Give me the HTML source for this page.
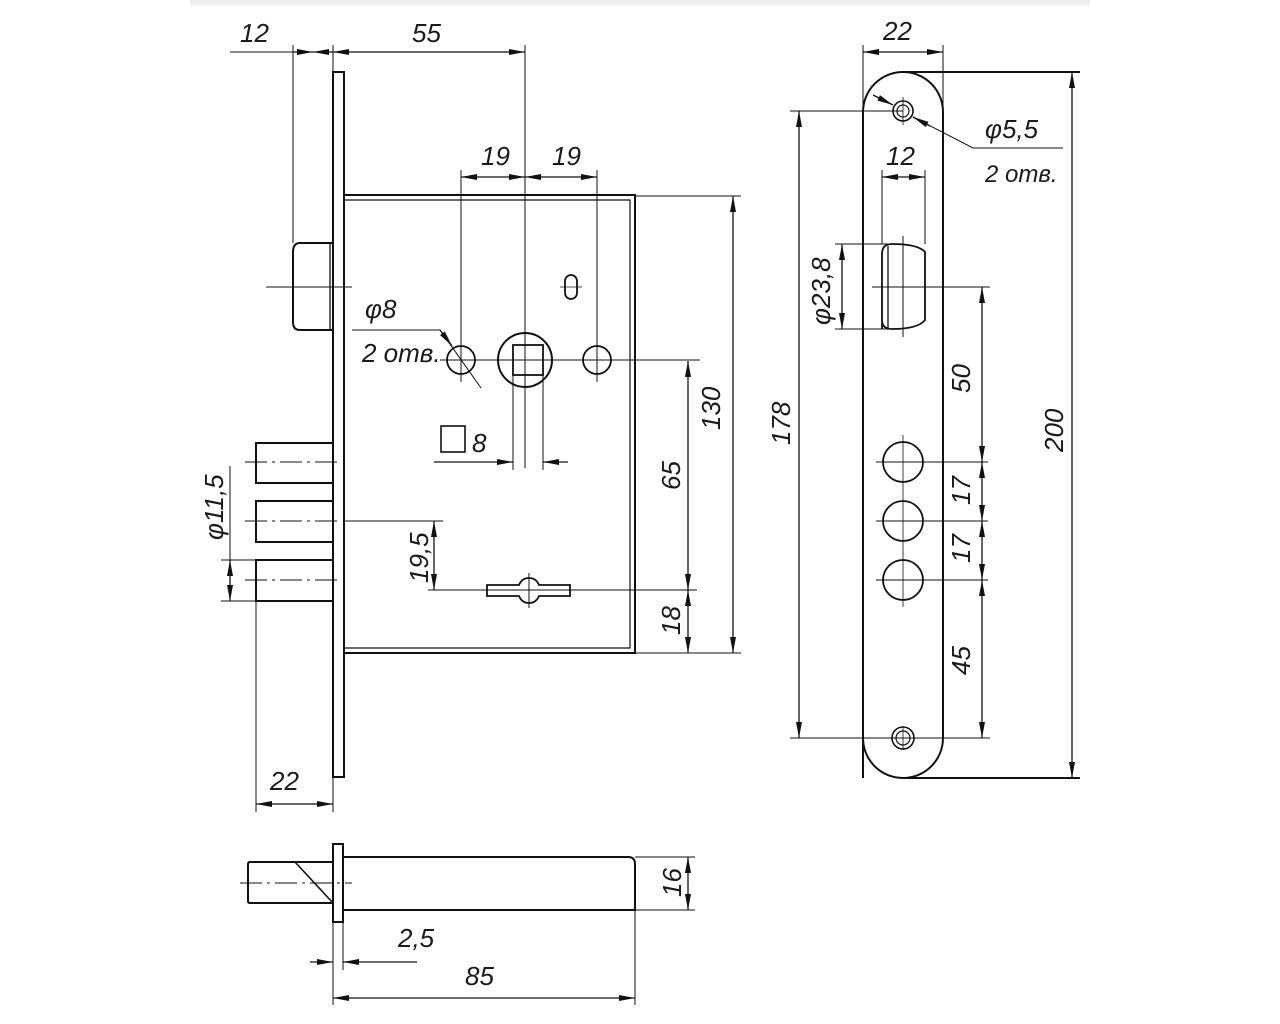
<!DOCTYPE html>
<html><head><meta charset="utf-8"><style>
html,body{margin:0;padding:0;background:#fff;}
svg{display:block;}
text{font-family:"Liberation Sans",sans-serif;font-style:italic;font-size:26px;fill:#1a1a1a;}
</style></head><body>
<svg width="1280" height="1024" viewBox="0 0 1280 1024" xmlns="http://www.w3.org/2000/svg">
<defs>
<marker id="a" viewBox="0 0 16 6" refX="16" refY="3" markerWidth="16" markerHeight="6" markerUnits="userSpaceOnUse" orient="auto-start-reverse"><path d="M0,0 L16,3 L0,6 z" fill="#111"/></marker>
</defs>
<rect x="190" y="0" width="900" height="5" fill="#eeeeee"/>
<g stroke="#111" fill="none" stroke-width="1.3">
<rect x="333" y="72" width="11" height="705" stroke-width="2"/>
<path d="M344,195 H635 V653 H344" stroke-width="2"/>
<path d="M344,200 H630 V648 H344" stroke-width="1.2"/>
<path d="M333,243 H300 Q293,243 293,252 V322 Q293,330 300,330 H333" stroke-width="2"/>
<line x1="330" y1="243" x2="330" y2="330"/>
<line x1="266" y1="287" x2="352" y2="287" stroke-width="1"/>
<line x1="230" y1="52" x2="293" y2="52" stroke-width="1"/>
<line x1="293" y1="52" x2="313" y2="52" marker-end="url(#a)"/>
<line x1="313" y1="52" x2="333" y2="52" marker-start="url(#a)"/>
<line x1="333" y1="52" x2="525" y2="52" marker-start="url(#a)" marker-end="url(#a)"/>
<line x1="293" y1="45" x2="293" y2="243" stroke-width="1"/>
<line x1="333" y1="45" x2="333" y2="72" stroke-width="1"/>
<line x1="525" y1="45" x2="525" y2="468" stroke-width="1"/>
<line x1="461" y1="177" x2="525" y2="177" marker-start="url(#a)" marker-end="url(#a)"/>
<line x1="525" y1="177" x2="597" y2="177" marker-start="url(#a)" marker-end="url(#a)"/>
<line x1="461" y1="170" x2="461" y2="382" stroke-width="1"/>
<line x1="597" y1="170" x2="597" y2="382" stroke-width="1"/>
<circle cx="461" cy="360" r="14" stroke-width="1.8"/>
<circle cx="597" cy="360" r="14" stroke-width="1.8"/>
<circle cx="525" cy="360" r="27" stroke-width="2"/>
<rect x="513" y="345" width="30" height="30" stroke-width="1.8"/>
<line x1="440" y1="360" x2="700" y2="360" stroke-width="1"/>
<rect x="565" y="275" width="12" height="24" rx="6" stroke-width="1.8"/>
<line x1="560" y1="287" x2="582" y2="287" stroke-width="0.8"/>
<line x1="513" y1="375" x2="513" y2="470" stroke-width="1"/>
<line x1="543" y1="375" x2="543" y2="470" stroke-width="1"/>
<line x1="434" y1="462" x2="513" y2="462" marker-end="url(#a)"/>
<line x1="568" y1="462" x2="543" y2="462" marker-end="url(#a)"/>
<rect x="441" y="426" width="24" height="26" stroke-width="1.6"/>
<polyline points="352,330 440,330 481,388" stroke-width="1"/>
<line x1="440" y1="330" x2="452" y2="346" marker-end="url(#a)"/>
<path d="M334,443 H256 V483 H334" stroke-width="2"/>
<path d="M334,501 H256 V542 H334" stroke-width="2"/>
<path d="M334,560 H256 V601 H334" stroke-width="2"/>
<g stroke-dasharray="22,5,3,5" stroke-width="1"><line x1="245" y1="462" x2="342" y2="462"/><line x1="245" y1="521" x2="342" y2="521"/><line x1="245" y1="580" x2="342" y2="580"/></g>
<line x1="344" y1="521" x2="443" y2="521" stroke-width="1"/>
<line x1="434" y1="521" x2="434" y2="590" marker-start="url(#a)" marker-end="url(#a)"/>
<line x1="428" y1="590" x2="697" y2="590" stroke-width="1"/>
<path d="M487,585 H519 Q522,578 529,578 Q536,578 539,585 H570 V596 H539 Q536,603 529,603 Q522,603 519,596 H487 Z" stroke-width="1.8"/>
<line x1="529" y1="573" x2="529" y2="608" stroke-width="1"/>
<line x1="221" y1="560" x2="256" y2="560" stroke-width="1"/>
<line x1="221" y1="601" x2="256" y2="601" stroke-width="1"/>
<line x1="230" y1="466" x2="230" y2="560" stroke-width="1"/>
<line x1="230" y1="580" x2="230" y2="560" marker-end="url(#a)"/>
<line x1="230" y1="580" x2="230" y2="601" marker-end="url(#a)"/>
<line x1="256" y1="601" x2="256" y2="812" stroke-width="1"/>
<line x1="333" y1="777" x2="333" y2="812" stroke-width="1"/>
<line x1="256" y1="804" x2="333" y2="804" marker-start="url(#a)" marker-end="url(#a)"/>
<line x1="635" y1="196" x2="741" y2="196" stroke-width="1"/>
<line x1="635" y1="653" x2="741" y2="653" stroke-width="1"/>
<line x1="733" y1="196" x2="733" y2="653" marker-start="url(#a)" marker-end="url(#a)"/>
<line x1="688" y1="361" x2="688" y2="590" marker-start="url(#a)" marker-end="url(#a)"/>
<line x1="688" y1="590" x2="688" y2="653" marker-start="url(#a)" marker-end="url(#a)"/>
<path d="M863,778 V112 A40,40 0 0 1 943,112 V738 A40,40 0 0 1 863,738" stroke-width="2"/>
<circle cx="903" cy="111" r="10" stroke-width="1.6"/>
<circle cx="903" cy="111" r="6" stroke-width="1.2"/>
<circle cx="903" cy="738" r="11" stroke-width="1.6"/>
<circle cx="903" cy="738" r="7" stroke-width="1.2"/>
<line x1="891" y1="738" x2="915" y2="738" stroke-width="0.8"/><line x1="903" y1="726" x2="903" y2="750" stroke-width="0.8"/>
<line x1="903" y1="97" x2="903" y2="125" stroke-width="0.8"/>
<line x1="863" y1="45" x2="863" y2="112" stroke-width="1"/>
<line x1="943" y1="45" x2="943" y2="112" stroke-width="1"/>
<line x1="863" y1="52" x2="943" y2="52" marker-start="url(#a)" marker-end="url(#a)"/>
<line x1="903" y1="72" x2="1080" y2="72" stroke-width="2"/>
<line x1="903" y1="778" x2="1080" y2="778" stroke-width="2"/>
<line x1="1072" y1="72" x2="1072" y2="778" marker-start="url(#a)" marker-end="url(#a)"/>
<line x1="790" y1="111" x2="903" y2="111" stroke-width="1"/>
<line x1="790" y1="738" x2="990" y2="738" stroke-width="1"/>
<line x1="799" y1="111" x2="799" y2="738" marker-start="url(#a)" marker-end="url(#a)"/>
<polyline points="913,117 973,148 1063,148" stroke-width="1"/>
<line x1="873" y1="95" x2="893" y2="105" marker-end="url(#a)"/>
<line x1="930" y1="126" x2="913" y2="117" marker-end="url(#a)"/>
<line x1="882" y1="170" x2="882" y2="244" stroke-width="1"/>
<line x1="925" y1="170" x2="925" y2="244" stroke-width="1"/>
<line x1="882" y1="177" x2="925" y2="177" marker-start="url(#a)" marker-end="url(#a)"/>
<path d="M882,329 V254 Q882,244 892,244 Q918,244 925,252 V320 Q918,329 892,329 Q882,329 882,320" stroke-width="1.8"/>
<line x1="888" y1="246" x2="888" y2="328"/>
<line x1="903" y1="236" x2="903" y2="337" stroke-width="1"/>
<line x1="872" y1="287" x2="990" y2="287" stroke-width="1"/>
<line x1="835" y1="244" x2="890" y2="244" stroke-width="1"/>
<line x1="835" y1="329" x2="890" y2="329" stroke-width="1"/>
<line x1="842" y1="244" x2="842" y2="329" marker-start="url(#a)" marker-end="url(#a)"/>
<circle cx="903" cy="462" r="20" stroke-width="1.8"/>
<circle cx="903" cy="521" r="20" stroke-width="1.8"/>
<circle cx="903" cy="580" r="20" stroke-width="1.8"/>
<line x1="903" y1="435" x2="903" y2="607" stroke-width="0.8"/>
<line x1="876" y1="462" x2="988" y2="462" stroke-width="1"/>
<line x1="876" y1="521" x2="988" y2="521" stroke-width="1"/>
<line x1="876" y1="580" x2="988" y2="580" stroke-width="1"/>
<line x1="982" y1="287" x2="982" y2="462" marker-start="url(#a)" marker-end="url(#a)"/>
<line x1="982" y1="462" x2="982" y2="521" marker-start="url(#a)" marker-end="url(#a)"/>
<line x1="982" y1="521" x2="982" y2="580" marker-start="url(#a)" marker-end="url(#a)"/>
<line x1="982" y1="580" x2="982" y2="738" marker-start="url(#a)" marker-end="url(#a)"/>
<rect x="333" y="844" width="10" height="78" stroke-width="2"/>
<path d="M343,857 H628 Q635,857 635,864 V910 H343" stroke-width="2"/>
<path d="M333,862 H250 Q248,862 248,864 V901 Q248,903 250,903 H333" stroke-width="2"/>
<line x1="295" y1="862" x2="333" y2="903" stroke-width="1.6"/>
<line x1="240" y1="883" x2="352" y2="883" stroke-width="1" stroke-dasharray="22,5,3,5"/>
<line x1="635" y1="857" x2="695" y2="857" stroke-width="1"/>
<line x1="635" y1="910" x2="695" y2="910" stroke-width="1"/>
<line x1="688" y1="857" x2="688" y2="910" marker-start="url(#a)" marker-end="url(#a)"/>
<line x1="333" y1="922" x2="333" y2="1005" stroke-width="1"/>
<line x1="343" y1="922" x2="343" y2="970" stroke-width="1"/>
<line x1="635" y1="910" x2="635" y2="1005" stroke-width="1"/>
<line x1="310" y1="962" x2="333" y2="962" marker-end="url(#a)"/>
<line x1="417" y1="962" x2="343" y2="962" marker-end="url(#a)"/>
<line x1="333" y1="998" x2="635" y2="998" marker-start="url(#a)" marker-end="url(#a)"/>
</g>
<text x="240" y="42">12</text>
<text x="412" y="42">55</text>
<text x="481" y="165">19</text>
<text x="552" y="165">19</text>
<text x="365" y="318">φ8</text>
<text x="362" y="362">2 отв.</text>
<text x="472" y="452">8</text>
<text x="398" y="947">2,5</text>
<text x="465" y="985">85</text>
<text x="270" y="790">22</text>
<text x="883" y="40">22</text>
<text x="886" y="165">12</text>
<text x="985" y="138">φ5,5</text>
<text x="985" y="182" style="font-size:24px">2 отв.</text>
<g>
<text transform="translate(223,540) rotate(-90)">φ11,5</text>
<text transform="translate(428,583) rotate(-90)">19,5</text>
<text transform="translate(680,490) rotate(-90)">65</text>
<text transform="translate(680,635) rotate(-90)">18</text>
<text transform="translate(720,430) rotate(-90)">130</text>
<text transform="translate(790,445) rotate(-90)">178</text>
<text transform="translate(830,325) rotate(-90)">φ23,8</text>
<text transform="translate(970,393) rotate(-90)">50</text>
<text transform="translate(970,505) rotate(-90)">17</text>
<text transform="translate(970,563) rotate(-90)">17</text>
<text transform="translate(970,675) rotate(-90)">45</text>
<text transform="translate(1063,452) rotate(-90)">200</text>
<text transform="translate(681,897) rotate(-90)">16</text>
</g>
</svg>
</body></html>
